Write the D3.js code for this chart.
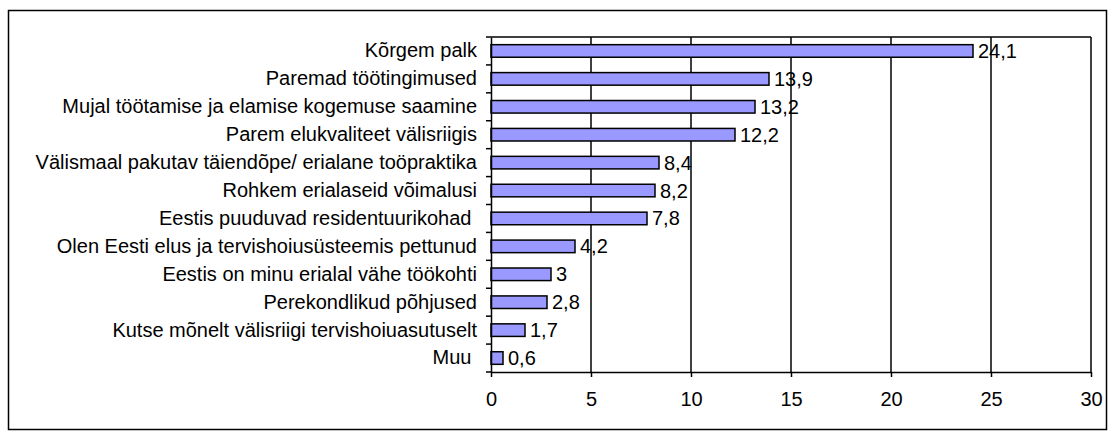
<!DOCTYPE html>
<html>
<head>
<meta charset="utf-8">
<script src="https://cdn.jsdelivr.net/npm/d3@7"></script>
<style>
body { margin: 0; background: #fff; }
text { font-family: "Liberation Sans", Arial, sans-serif; }
</style>
</head>
<body>
<script>
var categories = [
	'Kõrgem palk',
	'Paremad töötingimused',
	'Mujal töötamise ja elamise kogemuse saamine',
	'Parem elukvaliteet välisriigis',
	'Välismaal pakutav täiendõpe/ erialane toöpraktika',
	'Rohkem erialaseid võimalusi',
	'Eestis puuduvad residentuurikohad ',
	'Olen Eesti elus ja tervishoiusüsteemis pettunud',
	'Eestis on minu erialal vähe töökohti',
	'Perekondlikud põhjused',
	'Kutse mõnelt välisriigi tervishoiuasutuselt',
	'Muu '
]
var values = [24.1, 13.9, 13.2, 12.2, 8.4, 8.2, 7.8, 4.2, 3, 2.8, 1.7, 0.6]
var valueLabels = ['24,1', '13,9', '13,2', '12,2', '8,4', '8,2', '7,8', '4,2', '3', '2,8', '1,7', '0,6']
var xTicks = [0, 5, 10, 15, 20, 25, 30]

var W = 1110, H = 432
var plot = { left: 491, right: 1091, top: 37, bottom: 372 }
var fontSize = '20px'

var svg = d3.select('body').append('svg')
	.attr('width', W)
	.attr('height', H)

// outer frame
svg.append('rect')
	.attr('x', 8.5).attr('y', 10.5)
	.attr('width', 1098).attr('height', 419)
	.style('fill', 'none').style('stroke', '#000').style('stroke-width', 1.5)

var x = d3.scaleLinear().domain([0, 30]).range([plot.left, plot.right])
var y = d3.scaleBand().domain(categories).range([plot.top, plot.bottom]).paddingInner(0.55).paddingOuter(0.275)
var yb = d3.scaleBand().domain(categories).range([plot.top, plot.bottom])

// gridlines
svg.selectAll('.grid').data(xTicks.slice(1)).enter().append('line')
	.attr('class', 'grid')
	.attr('x1', function(d){ return x(d) }).attr('x2', function(d){ return x(d) })
	.attr('y1', plot.top).attr('y2', plot.bottom)
	.style('stroke', '#000').style('stroke-width', 1.5)

// plot top border
svg.append('line')
	.attr('x1', plot.left).attr('x2', plot.right)
	.attr('y1', plot.top).attr('y2', plot.top)
	.style('stroke', '#000').style('stroke-width', 1.5)

// bars
svg.selectAll('.bar').data(values).enter().append('rect')
	.attr('class', 'bar')
	.attr('x', x(0))
	.attr('y', function(d, i){ return y(categories[i]) })
	.attr('width', function(d){ return x(d) - x(0) })
	.attr('height', y.bandwidth())
	.style('fill', '#9999ff')
	.style('stroke', '#000').style('stroke-width', 1.5)

// value labels
svg.selectAll('.val').data(values).enter().append('text')
	.attr('class', 'val')
	.attr('x', function(d){ return x(d) + 5 })
	.attr('y', function(d, i){ return y(categories[i]) + y.bandwidth() / 2 })
	.attr('dy', '0.35em')
	.style('font-size', fontSize)
	.text(function(d, i){ return valueLabels[i] })

// y axis
var yAxis = d3.axisLeft(yb).tickSize(0).tickPadding(14)
var gy = svg.append('g').attr('transform', translation(plot.left, 0)).call(yAxis)
gy.select('.domain').style('stroke', '#000').style('stroke-width', 1.5)
gy.selectAll('text')
	.style('font-size', fontSize)
	.style('font-family', '"Liberation Sans", Arial, sans-serif')
	.style('fill', '#000')
	.style('white-space', 'pre')
	.attr('xml:space', 'preserve')
// category boundary ticks
svg.selectAll('.ytick').data(d3.range(categories.length + 1)).enter().append('line')
	.attr('class', 'ytick')
	.attr('x1', plot.left - 5).attr('x2', plot.left)
	.attr('y1', function(i){ return plot.top + i * yb.step() })
	.attr('y2', function(i){ return plot.top + i * yb.step() })
	.style('stroke', '#000').style('stroke-width', 1.5)

// x axis
var xAxis = d3.axisBottom(x).tickValues(xTicks).tickSizeInner(5).tickSizeOuter(0).tickPadding(15)
var gx = svg.append('g').attr('transform', translation(0, plot.bottom)).call(xAxis)
gx.select('.domain').style('stroke', '#000').style('stroke-width', 1.5)
gx.selectAll('line').style('stroke', '#000').style('stroke-width', 1.5)
gx.selectAll('text')
	.style('font-size', fontSize)
	.style('font-family', '"Liberation Sans", Arial, sans-serif')
	.style('fill', '#000')

function translation(a, b){
	return 'translate(' + a + ',' + b + ')'
}
</script>
</body>
</html>
